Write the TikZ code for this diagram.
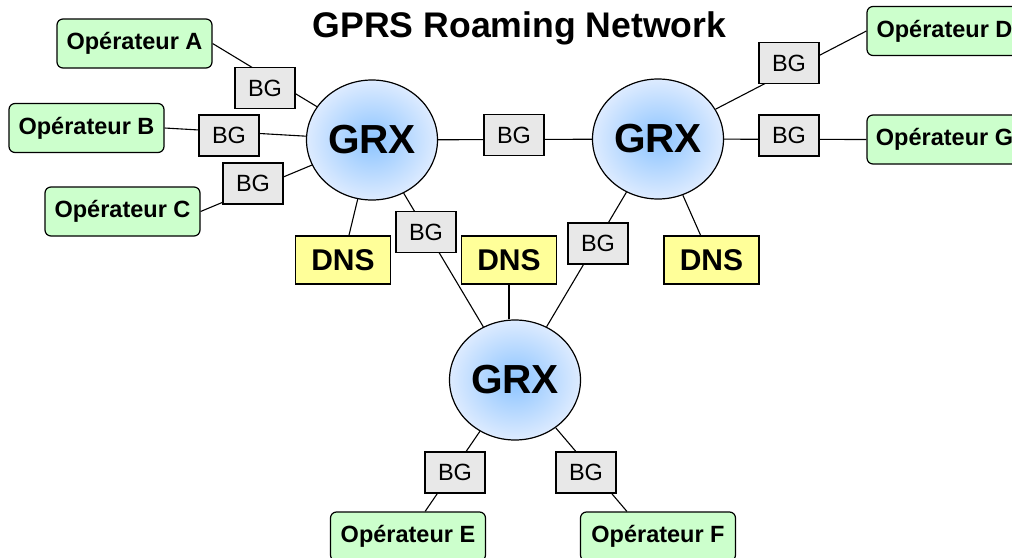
\documentclass[tikz,border=0pt]{standalone}
\usepackage{fontspec}
\setmainfont{Liberation Sans}
\usetikzlibrary{shapes,positioning,backgrounds}
\definecolor{opgreen}{HTML}{CCFFCC}
\definecolor{gwgray}{HTML}{E8E8E8}
\definecolor{dnsyellow}{HTML}{FFFF99}
\definecolor{grxblue}{HTML}{8CC4FF}
\definecolor{grxpale}{HTML}{DDEBFF}
\tikzset{
    basic/.style    = {draw, line width=1.2pt, inner sep=0pt, align=center},
    operator/.style = {basic, rounded corners=6pt, fill=opgreen, minimum width=155pt, minimum height=49pt, font=\fontsize{23.5}{26}\selectfont\bfseries},
    gateway/.style  = {basic, fill=gwgray, minimum width=60pt, minimum height=41pt, font=\fontsize{23.5}{26}\selectfont},
    dns/.style      = {basic, fill=dnsyellow, minimum width=95pt, minimum height=48pt, font=\fontsize{30}{34}\selectfont\bfseries},
    grx/.style      = {basic, ellipse, inner color=grxblue, outer color=grxpale, minimum width=131pt, minimum height=120pt, font=\fontsize{40.6}{44}\selectfont\bfseries}
}

\begin{document}
\begin{tikzpicture}[x=1pt, y=-1pt,
	link/.style={draw, line width=1.1pt}]
	\path[use as bounding box, clip] (0,0) rectangle (1012,557);
	\node[font=\fontsize{35.6}{40}\selectfont\bfseries, anchor=base] (title) at (519.5,37) {GPRS Roaming Network};
	\node[grx] (grx1) at (372,140) {GRX};
	\node[grx] (grx2) at (658,139) {GRX};
	\node[grx] (grx3) at (515,380) {GRX};
	\node[operator] (opA) at (134.5,43.5) {Opérateur A};
	\node[operator] (opB) at (86.5,128) {Opérateur B};
	\node[operator] (opC) at (122.5,211.5) {Opérateur C};
	\node[operator] (opD) at (944.5,31) {Opérateur D};
	\node[operator] (opG) at (944.5,139.5) {Opérateur G};
	\node[operator] (opE) at (408,536.5) {Opérateur E};
	\node[operator] (opF) at (658,536.5) {Opérateur F};
	\node[gateway] (bgA) at (265,88) {BG};
	\node[gateway] (bgB) at (229,135.5) {BG};
	\node[gateway] (bgC) at (253,183.5) {BG};
	\node[gateway] (bgD) at (789,63) {BG};
	\node[gateway] (bgG) at (789,135.5) {BG};
	\node[gateway] (bg12) at (514,135) {BG};
	\node[gateway] (bg13) at (426,232) {BG};
	\node[gateway] (bg23) at (598,243.5) {BG};
	\node[gateway] (bgE) at (455,472.5) {BG};
	\node[gateway] (bgF) at (586,472.5) {BG};
	\node[dns] (dns1) at (343,260) {DNS};
	\node[dns] (dns2) at (509,260) {DNS};
	\node[dns] (dns3) at (711.5,260) {DNS};
	\begin{scope}[on background layer, every path/.style={link}]
		\draw (opA.east) -- (grx1);
		\draw (opB.east) -- (grx1);
		\draw (opC.east) -- (grx1);
		\draw (opD.west) -- (grx2);
		\draw (opG.west) -- (grx2);
		\draw (grx1) -- (grx2);
		\draw (grx1) -- (grx3);
		\draw (grx2) -- (grx3);
		\draw (grx3) -- (opE);
		\draw (grx3) -- ([xshift=47pt]opF.north west);
		\draw (grx1) -- (dns1);
		\draw (grx2) -- (dns3);
		\draw (dns2) -- (dns2 |- grx3.north);
	\end{scope}
\end{tikzpicture}
\end{document}
